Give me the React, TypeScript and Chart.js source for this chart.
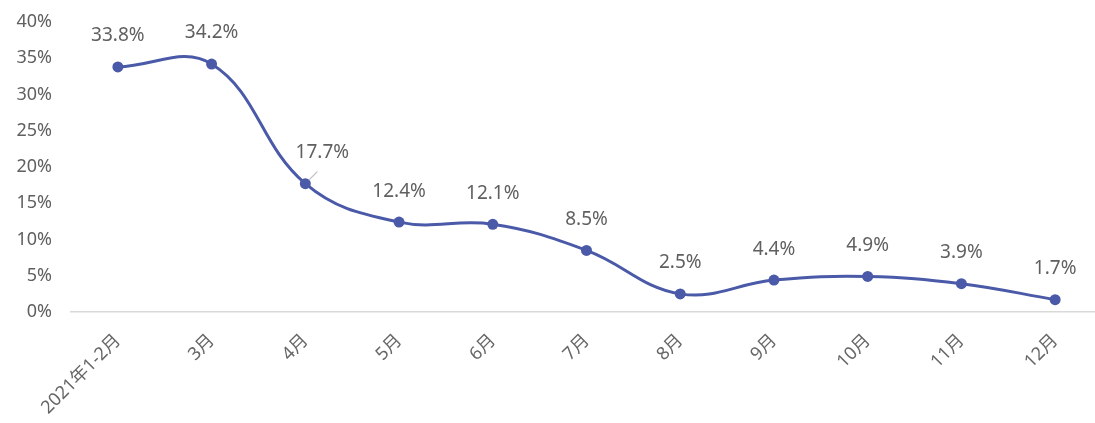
import React, { useEffect, useRef } from "react";
import { Chart, registerables } from "chart.js";

Chart.register(...registerables);

const categories = ["2021年1-2月", "3月", "4月", "5月", "6月", "7月", "8月", "9月", "10月", "11月", "12月"];
const values = [33.8, 34.2, 17.7, 12.4, 12.1, 8.5, 2.5, 4.4, 4.9, 3.9, 1.7];
const yTicks = [0, 5, 10, 15, 20, 25, 30, 35, 40];

const LINE_COLOR = "#4a5aa8";
const TEXT_COLOR = "#606060";
const FONT = "'Noto Sans', 'Noto Sans CJK SC', sans-serif";

const labelPlugin = {
  id: "pointLabels",
  afterDatasetsDraw(chart: any) {
    const ctx = chart.ctx;
    const meta = chart.getDatasetMeta(0);
    ctx.save();
    ctx.font = `19px ${FONT}`;
    ctx.fillStyle = TEXT_COLOR;
    ctx.textAlign = "center";
    ctx.textBaseline = "middle";
    meta.data.forEach((pt: any, i: number) => {
      const v = values[i];
      let x = pt.x;
      let y = pt.y - 31;
      if (i === 2) {
        x = pt.x + 17;
        y = pt.y - 31;
        ctx.strokeStyle = "#bfbfbf";
        ctx.lineWidth = 1.2;
        ctx.beginPath();
        ctx.moveTo(pt.x + 4, pt.y - 4);
        ctx.lineTo(pt.x + 12, pt.y - 12);
        ctx.stroke();
      }
      ctx.fillText(v.toFixed(1) + "%", x, y);
    });
    ctx.restore();
  },
};

export default function App() {
  const ref = useRef<HTMLCanvasElement>(null);
  useEffect(() => {
    if (!ref.current) return;
    const chart = new Chart(ref.current, {
      type: "line",
      data: {
        labels: categories,
        datasets: [
          {
            data: values,
            borderColor: LINE_COLOR,
            backgroundColor: LINE_COLOR,
            borderWidth: 3,
            pointRadius: 5.5,
            pointBackgroundColor: LINE_COLOR,
            pointBorderColor: LINE_COLOR,
            pointBorderWidth: 0,
            tension: 0.4,
            fill: false,
          },
        ],
      },
      options: {
        animation: false,
        responsive: false,
        maintainAspectRatio: false,
        layout: { autoPadding: false, padding: { top: 22, left: 0, right: 0, bottom: 0 } },
        plugins: {
          legend: { display: false },
          tooltip: { enabled: false },
        },
        scales: {
          x: {
            offset: true,
            grid: { display: false, drawTicks: false },
            border: { display: true, color: "#d9d9d9", width: 1.5 },
            ticks: {
              color: "#666666",
              font: { family: FONT, size: 18 },
              maxRotation: 45,
              minRotation: 45,
              padding: 18,
              autoSkip: false,
            },
            afterFit(scale: any) {
              scale.height = 111;
              scale.paddingTop = 0;
              scale.paddingBottom = 0;
            },
          },
          y: {
            min: 0,
            max: 40,
            afterBuildTicks(scale: any) {
              scale.ticks = yTicks.map((v) => ({ value: v }));
            },
            grid: { display: false, drawTicks: false },
            border: { display: false },
            ticks: {
              color: TEXT_COLOR,
              font: { family: FONT, size: 18 },
              padding: 19,
              callback: (v: any) => v + "%",
            },
            afterFit(scale: any) {
              scale.width = 71;
              scale.paddingTop = 0;
              scale.paddingBottom = 0;
            },
          },
        },
      },
      plugins: [labelPlugin],
    });
    return () => chart.destroy();
  }, []);
  return (
    <div style={{ position: "absolute", left: 0, top: 0, width: 1095, height: 423, overflow: "hidden", background: "#fff" }}>
      <canvas ref={ref} width={1102} height={423} style={{ display: "block" }} />
    </div>
  );
}
